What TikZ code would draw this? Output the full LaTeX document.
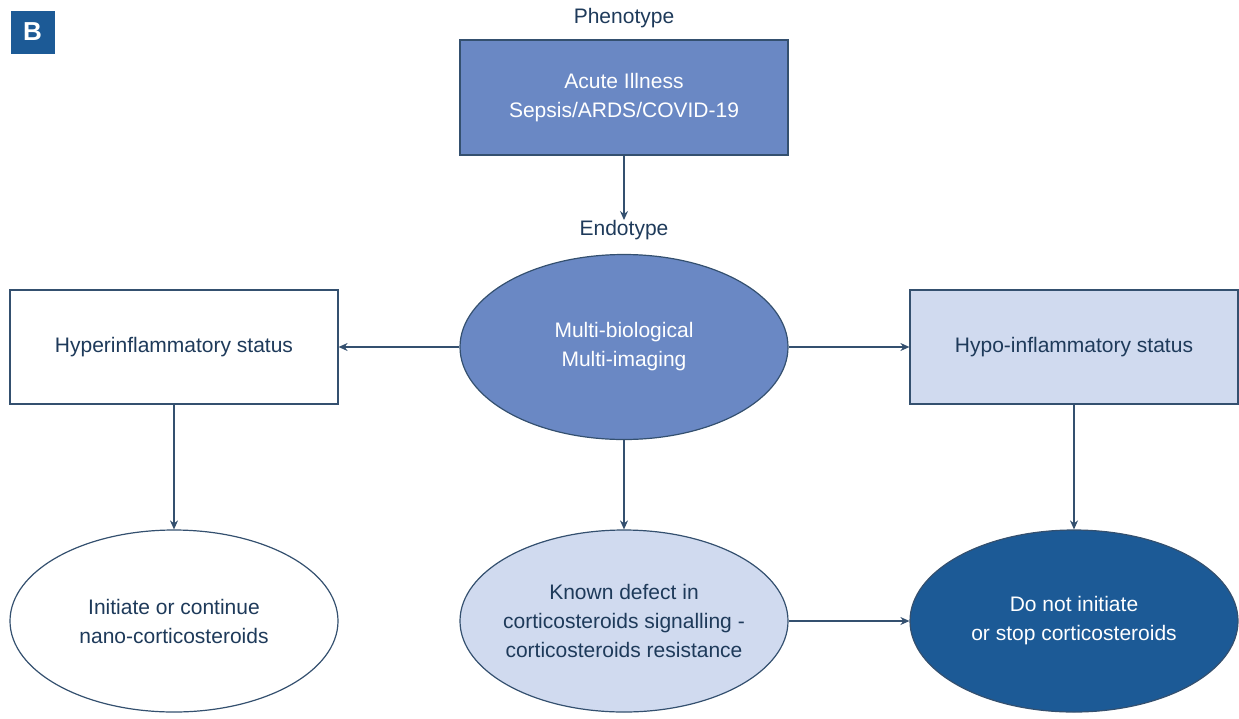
\documentclass[tikz,border=0pt]{standalone}
\usepackage{fontspec}
\setmainfont{Liberation Sans}
\usetikzlibrary{shapes.geometric,arrows.meta}
\definecolor{txt}{HTML}{1E3A5A}
\definecolor{edge}{HTML}{34506F}
\definecolor{midblue}{HTML}{6A88C4}
\definecolor{lightblue}{HTML}{D0DAEF}
\definecolor{darkblue}{HTML}{1C5A96}
\tikzset{
  every node/.style={font=\fontsize{21}{29}\selectfont, text=txt, align=center},
  rbox/.style={draw=edge, line width=1.2pt, rectangle, minimum width=328pt, minimum height=114pt, inner sep=0pt},
  ell/.style={draw=edge, line width=1.2pt, ellipse, minimum width=328pt, minimum height=182pt, inner sep=0pt},
  conn/.style={draw=edge, line width=1.2pt, -{Stealth[length=9pt,width=8pt]}},
  lbl/.style={inner sep=0pt}
}
\begin{document}
\begin{tikzpicture}[x=1pt,y=-1pt]
\useasboundingbox (0,0) rectangle (1239,718);
\node[fill=darkblue, minimum width=44pt, minimum height=43pt, inner sep=0pt, text=white, font=\fontsize{26}{26}\selectfont\bfseries] (badge) at (32.5,32) {B};
\node[lbl] (pheno) at (624,18) {Phenotype};
\node[rbox, fill=midblue, text=white, minimum height=115pt] (acute) at (624,97.5) {Acute Illness\\Sepsis/ARDS/COVID-19};
\node[lbl] (endo) at (624,230) {Endotype};
\node[ell, fill=midblue, minimum height=185pt] (multi) at (624,347) {};
\node[text=white] (multit) at (multi) {Multi-biological\\Multi-imaging};
\node[rbox, fill=white] (hyper) at (174,347) {Hyperinflammatory status};
\node[rbox, fill=lightblue] (hypo) at (1074,347) {Hypo-inflammatory status};
\node[ell, fill=white] (init) at (174,621) {};
\node (initt) at (init) {Initiate or continue\\nano-corticosteroids};
\node[ell, fill=lightblue] (known) at (624,621) {};
\node (knownt) at (known) {Known defect in\\corticosteroids signalling -\\corticosteroids resistance};
\node[ell, fill=darkblue] (stop) at (1074,621) {};
\node[text=white] (stopt) at (stop) {Do not initiate\\or stop corticosteroids};
\draw[conn] (acute.south) -- (endo.north);
\draw[conn] (multi.west) -- (hyper.east);
\draw[conn] (multi.east) -- (hypo.west);
\draw[conn] (hyper.south) -- (init.north);
\draw[conn] (multi.south) -- (known.north);
\draw[conn] (hypo.south) -- (stop.north);
\draw[conn] (known.east) -- (stop.west);
\end{tikzpicture}
\end{document}
